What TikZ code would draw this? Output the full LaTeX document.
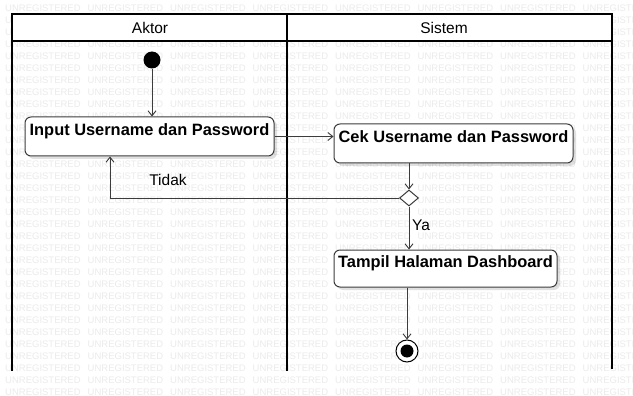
\documentclass[tikz,border=0pt]{standalone}
\usepackage{fontspec}
\setmainfont{Liberation Sans}
\usetikzlibrary{arrows.meta,shapes.geometric,shadows,calc}
\definecolor{linec}{HTML}{3C3C3C}
\definecolor{wmc}{HTML}{EBEBEB}
\begin{document}
\begin{tikzpicture}[x=1pt,y=-1pt,
  wmark/.style={text=wmc, font=\fontsize{9.5}{10}\selectfont, anchor=west, inner sep=0pt},
  lane/.style={draw=black, line width=1.6pt},
  hdr/.style={font=\fontsize{15.5}{17}\selectfont, inner sep=0pt},
  lbl/.style={font=\fontsize{15.5}{17}\selectfont, inner sep=0pt},
  act/.style={draw=linec, line width=1pt, rounded corners=6pt, fill=white,
    font=\fontsize{16.4}{18}\selectfont\bfseries, inner sep=1.5pt,
    text height=10pt, text depth=12.5pt,
    drop shadow={shadow xshift=3pt, shadow yshift=-3pt, fill=black, opacity=0.12}},
  initnode/.style={circle, fill=black, minimum size=17pt, inner sep=0pt},
  dec/.style={diamond, draw=linec, line width=1pt, fill=white, inner sep=0pt,
    minimum width=19pt, minimum height=16pt},
  finalnode/.style={circle, draw=black, line width=1pt, fill=white, minimum size=22pt, inner sep=0pt,
    path picture={\fill[black] (path picture bounding box.center) circle (6.5pt);}},
  flow/.style={draw=linec, line width=0.9pt, -{Straight Barb[length=5pt,width=8pt]}}
]
\useasboundingbox (0,0) rectangle (633,396);
\fill[white] (0,0) rectangle (633,396);
% watermark
\foreach \r in {0,...,32}{
  \foreach \c in {0,...,7}{
    \node[wmark] (wm-\r-\c) at ({5+82.5*\c},{8+12*\r}) {UNREGISTERED};
  }
}
% header
\fill[white] (12,14) rectangle (612,41);
\draw[lane] (12,371) -- (12,14) -- (612,14) -- (612,369);
\draw[lane] (287,14) -- (287,371);
\draw[line width=1.2pt] (12,41) -- (612,41);
\node[hdr] (aktor) at (150,28) {Aktor};
\node[hdr] (sistem) at (444,28) {Sistem};
% nodes
\node[initnode] (init) at (152,60) {};
\node[act, minimum width=249pt, minimum height=39pt] (input) at (149.5,136.5) {Input Username dan Password};
\node[act, minimum width=239pt, minimum height=39pt] (cek) at (453.5,143.5) {Cek Username dan Password};
\node[dec] (dia) at (409,198) {};
\node[act, minimum width=223pt, minimum height=37pt] (tampil) at (445.5,268.5) {Tampil Halaman Dashboard};
\node[finalnode] (fin) at (407,351) {};
% connectors
\draw[flow] (init.south) -- (init.south |- input.north);
\draw[flow] (input.east) -- (input.east -| cek.west);
\draw[flow] (cek.south -| dia) -- (dia.north);
\draw[flow] (dia.west) -| ([xshift=-39.5pt]input.south);
\draw[flow] (dia.south) -- (dia.south |- tampil.north);
\draw[flow] (tampil.south -| fin) -- (fin.north);
% labels
\node[lbl] (tidak) at (168,180) {Tidak};
\node[lbl] (ya) at (421,225) {Ya};
\end{tikzpicture}
\end{document}
